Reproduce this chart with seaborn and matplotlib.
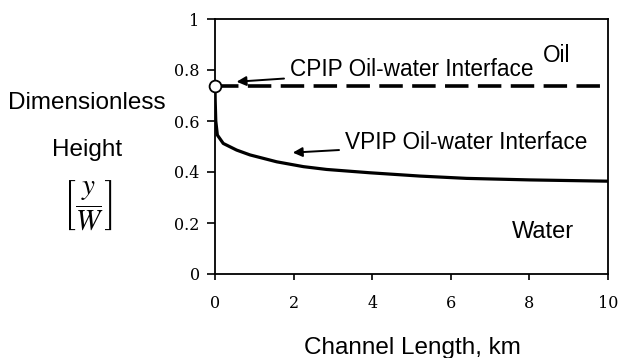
import matplotlib
matplotlib.use("Agg")
import matplotlib.pyplot as plt
import seaborn as sns
import pandas as pd

# Data
channel_km = [0, 0.005, 0.02, 0.06, 0.21, 0.55, 0.89, 1.57, 2.25, 2.84, 3.94, 5.22, 6.4, 8, 10]
vpip_height = [0.737, 0.68, 0.60, 0.545, 0.512, 0.486, 0.467, 0.44, 0.421, 0.41,
               0.397, 0.384, 0.375, 0.369, 0.364]
cpip_x = [0, 10]
cpip_height = [0.737, 0.737]
x_ticks = [0, 2, 4, 6, 8, 10]
y_ticks = [0, 0.2, 0.4, 0.6, 0.8, 1]
y_tick_labels = ["0", "0.2", "0.4", "0.6", "0.8", "1"]

sns.set_theme(style="white")
plt.rcParams["font.family"] = ["Liberation Sans", "DejaVu Sans"]

fig = plt.figure(figsize=(6.19, 3.58), dpi=100)
ax = fig.add_axes([215 / 619, 1 - 274 / 358, (608 - 215) / 619, (274 - 19) / 358])

df_v = pd.DataFrame({"x": channel_km, "y": vpip_height})
df_c = pd.DataFrame({"x": cpip_x, "y": cpip_height})

sns.lineplot(data=df_v, x="x", y="y", ax=ax, color="black", lw=2.3)
ax.lines[-1].set_solid_joinstyle("round")
sns.lineplot(data=df_c, x="x", y="y", ax=ax, color="black", lw=2.6)
ax.lines[-1].set_dashes((6.5, 2.6))
ax.plot([cpip_x[0]], [cpip_height[0]], marker="o", ms=8.5, mfc="white",
        mec="black", mew=1.3, clip_on=False, zorder=5)

ax.set_xlim(0, 10)
ax.set_ylim(0, 1)
ax.set_xticks(x_ticks)
ax.set_yticks(y_ticks)
ax.set_yticklabels(y_tick_labels)
ax.set_xlabel("")
ax.set_ylabel("")
for lab in ax.get_xticklabels() + ax.get_yticklabels():
    lab.set_fontfamily("DejaVu Serif")
    lab.set_fontsize(11.5)
    lab.set_color("#111111")
ax.tick_params(axis="x", bottom=True, direction="out", length=4, width=1.2,
               pad=11, colors="black")
ax.tick_params(axis="y", left=True, direction="out", length=6, width=1.2,
               pad=5, colors="black")
for s in ax.spines.values():
    s.set_color("black")
    s.set_linewidth(1.3)

txt_kw = dict(fontsize=16.3, color="black", va="center", ha="left")
ax.annotate("CPIP Oil-water Interface", xy=(0.55, 0.754), xytext=(1.91, 0.80),
            arrowprops=dict(arrowstyle="-|>", color="black", lw=1.4,
                            mutation_scale=14, shrinkA=2, shrinkB=0), **txt_kw)
ax.annotate("VPIP Oil-water Interface", xy=(1.98, 0.476), xytext=(3.31, 0.514),
            arrowprops=dict(arrowstyle="-|>", color="black", lw=1.4,
                            mutation_scale=14, shrinkA=2, shrinkB=0), **txt_kw)
ax.text(8.35, 0.857, "Oil", **txt_kw)
ax.text(7.56, 0.165, "Water", **dict(txt_kw, fontsize=17))

fig.text(412 / 619, 1 - 348 / 358, "Channel Length, km", fontsize=17.5,
         ha="center", va="center", color="black")
fig.text(87 / 619, 1 - 103 / 358, "Dimensionless", fontsize=17.5,
         ha="center", va="center", color="black")
fig.text(87 / 619, 1 - 150 / 358, "Height", fontsize=17.5,
         ha="center", va="center", color="black")
fig.text(88 / 619, 1 - 205 / 358, r"$\left[\dfrac{y}{W}\right]$", fontsize=21,
         ha="center", va="center", color="black", math_fontfamily="stix")

fig.savefig("out.png", dpi=100)
